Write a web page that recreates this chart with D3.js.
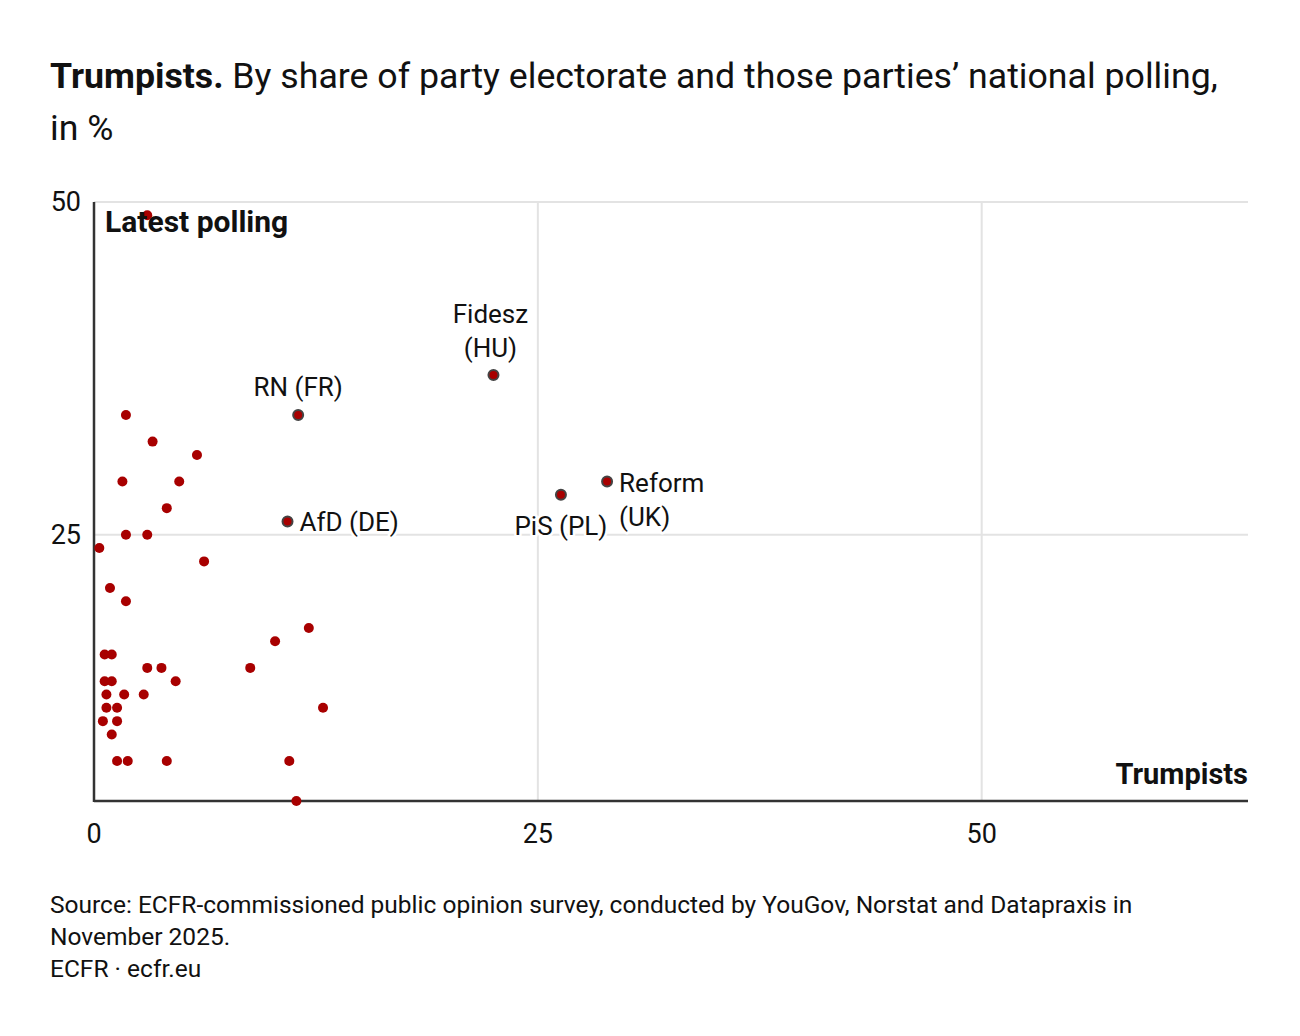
<html>
<head>
<script src="https://cdn.jsdelivr.net/npm/d3@7"></script>
<style>
  body { margin: 0; background: #fff; }
  text { font-family: Roboto, "Open Sans", sans-serif; fill: #111; }
</style>
</head>
<body>
<svg width="1300" height="1036"></svg>
<script>
// trumpist share of party electorate (x) vs latest national polling (y), in %
var trumpists = [3.3, 5.8, 1.6, 4.8, 4.1, 1.8, 3.0, 0.3, 6.2, 0.9, 1.8, 12.1, 10.2, 0.6, 1.0,
                 3.0, 3.8, 8.8, 0.6, 1.0, 4.6, 0.7, 1.7, 2.8, 0.7, 1.3, 12.9, 0.5, 1.3, 1.0,
                 1.3, 1.9, 4.1, 11.0, 11.4, 1.8, 3.0];
var polling   = [32, 31, 29, 29, 27, 25, 25, 24, 23, 21, 20, 18, 17, 16, 16,
                 15, 15, 15, 14, 14, 14, 13, 13, 13, 12, 12, 12, 11, 11, 10,
                 8, 8, 8, 8, 5, 34, 49];

// named parties
var partyNames    = ["Fidesz (HU)", "RN (FR)", "AfD (DE)", "PiS (PL)", "Reform (UK)"];
var partyTrump    = [22.5, 11.5, 10.9, 26.3, 28.9];
var partyPolling  = [37, 34, 26, 28, 29];

var xTicks = [0, 25, 50];
var yTicks = [25, 50];

var svg = d3.select("svg");
var mLeft = 94, mRight = 1248, mTop = 202, mBottom = 801;

var x = d3.scaleLinear().domain([0, 65]).range([mLeft, mRight]);
var y = d3.scaleLinear().domain([5, 50]).range([mBottom, mTop]);

// title
var title = svg.append("text").attr("x", 50).attr("y", 88).style("font-size", "35.7px");
title.append("tspan").style("font-weight", "bold").text("Trumpists.");
title.append("tspan").text(" By share of party electorate and those parties\u2019 national polling,");
svg.append("text").attr("x", 50).attr("y", 140).style("font-size", "35.7px").text("in %");

// gridlines
svg.append("g").selectAll("line").data(xTicks.filter(function(d) { return d > 0; })).enter().append("line")
  .attr("x1", function(d) { return x(d); }).attr("x2", function(d) { return x(d); })
  .attr("y1", mTop).attr("y2", mBottom)
  .attr("stroke", "#e3e3e3").attr("stroke-width", 2);
svg.append("g").selectAll("line").data(yTicks).enter().append("line")
  .attr("x1", mLeft).attr("x2", mRight)
  .attr("y1", function(d) { return y(d); }).attr("y2", function(d) { return y(d); })
  .attr("stroke", "#e3e3e3").attr("stroke-width", 2);

// tick labels
svg.append("g").selectAll("text").data(yTicks).enter().append("text")
  .attr("x", 81).attr("y", function(d) { return y(d); })
  .attr("text-anchor", "end").attr("dy", "0.35em")
  .style("font-size", "27px").text(function(d) { return d; });
svg.append("g").selectAll("text").data(xTicks).enter().append("text")
  .attr("x", function(d) { return x(d); }).attr("y", 843)
  .attr("text-anchor", "middle")
  .style("font-size", "27px").text(function(d) { return d; });

// axis lines
svg.append("line").attr("x1", mLeft).attr("x2", mLeft).attr("y1", mTop).attr("y2", mBottom + 1)
  .attr("stroke", "#333").attr("stroke-width", 2.5);
svg.append("line").attr("x1", mLeft).attr("x2", mRight).attr("y1", mBottom).attr("y2", mBottom)
  .attr("stroke", "#333").attr("stroke-width", 2.5);

// unlabelled dots
svg.append("g").selectAll("circle").data(d3.range(trumpists.length)).enter().append("circle")
  .attr("cx", function(i) { return x(trumpists[i]); })
  .attr("cy", function(i) { return y(polling[i]); })
  .attr("r", 5).attr("fill", "#a80000");

// axis titles
var lp = svg.append("text").attr("x", 105).attr("y", 232)
  .style("font-size", "30px").style("font-weight", "bold").text("Latest polling");
svg.append("text").attr("x", 1248).attr("y", 784).attr("text-anchor", "end")
  .style("font-size", "29px").style("font-weight", "bold").text("Trumpists");
lp.clone(true).lower().style("fill", "none").attr("stroke", "#fff").attr("stroke-width", 7).attr("stroke-linejoin", "round");

// labelled dots
svg.append("g").selectAll("circle").data(d3.range(partyNames.length)).enter().append("circle")
  .attr("cx", function(i) { return x(partyTrump[i]); })
  .attr("cy", function(i) { return y(partyPolling[i]); })
  .attr("r", 5).attr("fill", "#a80000").attr("stroke", "#444").attr("stroke-width", 2);

// party labels: [dx, dy of first line, anchor, split into two lines]
var labelPos = [
  [-3, -52, "middle", true],
  [0, -19, "middle", false],
  [12, 10, "start", false],
  [0, 40, "middle", false],
  [12, 10, "start", true]
];
var lg = svg.append("g");
partyNames.forEach(function(name, i) {
  var p = labelPos[i];
  var lines = p[3] ? [name.split(" ")[0], name.split(" ")[1]] : [name];
  var t = lg.append("text")
    .attr("x", x(partyTrump[i]) + p[0])
    .attr("y", y(partyPolling[i]) + p[1])
    .attr("text-anchor", p[2])
    .style("font-size", "26px");
  lines.forEach(function(l, k) {
    t.append("tspan").attr("x", x(partyTrump[i]) + p[0]).attr("dy", k === 0 ? 0 : 34).text(l);
  });
  t.clone(true).lower().style("fill", "none").attr("stroke", "#fff").attr("stroke-width", 5).attr("stroke-linejoin", "round");
});

// source
svg.append("text").attr("x", 50).attr("y", 913).style("font-size", "24.5px")
  .text("Source: ECFR-commissioned public opinion survey, conducted by YouGov, Norstat and Datapraxis in");
svg.append("text").attr("x", 50).attr("y", 945).style("font-size", "24.5px").text("November 2025.");
svg.append("text").attr("x", 50).attr("y", 977).style("font-size", "24.5px").text("ECFR \u00b7 ecfr.eu");
</script>
</body>
</html>
